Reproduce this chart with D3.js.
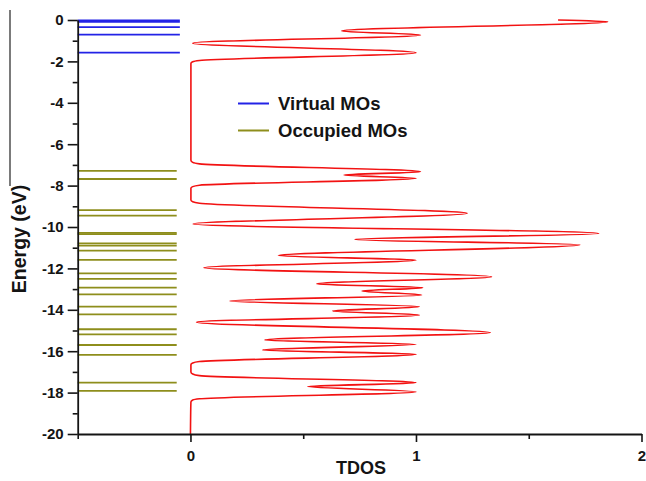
<!DOCTYPE html>
<html>
<head>
<meta charset="utf-8">
<script src="https://cdn.jsdelivr.net/npm/d3@7"></script>
<style>
  body { margin: 0; background: #fff; }
  svg { display: block; }
  text { font-family: "Liberation Sans", Arial, sans-serif; font-weight: bold; fill: #141414; }
</style>
</head>
<body>
<svg id="chart" width="646" height="481"></svg>
<script>
// Molecular orbital energy levels (eV)
const virtualMOs = [-0.02, -0.09, -0.34, -0.71, -1.58];
const occupiedMOs = [-7.29, -7.68, -9.18, -9.45, -10.28, -10.34, -10.79, -10.90, -11.14,
  -11.59, -12.24, -12.51, -12.93, -13.25, -13.85, -14.22, -14.94, -15.19, -15.70,
  -16.18, -17.52, -17.92];

// Total density of states, sampled along the energy axis
const tdosEnergy = [-20.0, -18.45, -18.36, -18.30, -17.96, -17.71, -17.52, -17.18, -17.10,
  -17.00, -16.65, -16.57, -16.50, -16.15, -15.94, -15.67, -15.46, -15.10, -14.60,
  -14.25, -14.06, -13.85, -13.57, -13.28, -13.09, -12.93, -12.75, -12.40, -11.97,
  -11.60, -11.38, -10.86, -10.60, -10.31, -9.86, -9.34, -8.85, -8.78, -8.70,
  -8.13, -8.05, -7.98, -7.65, -7.49, -7.33, -6.95, -6.88, -6.78, -2.10,
  -2.02, -1.96, -1.58, -1.12, -0.72, -0.53, -0.08, 0.0];
const tdosValue = [0.0, 0.002, 0.01, 0.04, 1.0, 0.52, 1.0, 0.04, 0.01,
  0.002, 0.002, 0.01, 0.04, 1.0, 0.32, 1.0, 0.33, 1.33, 0.027,
  1.015, 0.63, 1.015, 0.175, 1.025, 0.76, 1.03, 0.56, 1.335, 0.06,
  1.0, 0.39, 1.727, 0.73, 1.81, 0.012, 1.227, 0.04, 0.01, 0.002,
  0.002, 0.01, 0.04, 1.0, 0.68, 1.02, 0.04, 0.01, 0.002, 0.002,
  0.01, 0.04, 1.0, 0.01, 1.02, 0.67, 1.85, 1.63];

// Axis ticks
const yTicks = [0, -2, -4, -6, -8, -10, -12, -14, -16, -18, -20];
const yMinorTicks = [-1, -3, -5, -7, -9, -11, -13, -15, -17, -19];
const xTicks = [0, 1, 2];
const xMinorTicks = [-0.5, 0.5, 1.5];

const legendLabels = ["Virtual MOs", "Occupied MOs"];
const xTitle = "TDOS";
const yTitle = "Energy (eV)";

const colors = { virtual: "#2323e6", occupied: "#8e8e1c", tdos: "#f21212" };

const svg = d3.select("#chart");

const x = d3.scaleLinear().domain([-0.5, 2]).range([77.7, 641.5]);
const y = d3.scaleLinear().domain([-20, 0]).range([434, 20]);

// MO level bars on the left side of the panel
const levelGroup = svg.append("g");
levelGroup.selectAll("line.occ")
  .data(occupiedMOs)
  .join("line")
  .attr("class", "occ")
  .attr("x1", x(-0.5)).attr("x2", x(-0.061))
  .attr("y1", d => y(d)).attr("y2", d => y(d))
  .attr("stroke", colors.occupied)
  .attr("stroke-width", 1.8);
levelGroup.selectAll("line.virt")
  .data(virtualMOs)
  .join("line")
  .attr("class", "virt")
  .attr("x1", x(-0.5)).attr("x2", x(-0.047))
  .attr("y1", d => y(d)).attr("y2", d => y(d))
  .attr("stroke", colors.virtual)
  .attr("stroke-width", 1.8);

// TDOS curve: x is a function of energy, so interpolate monotonically along y
const tdos = tdosEnergy.map((e, i) => ({ e, v: tdosValue[i] }));
const tdosLine = d3.line()
  .x(d => x(d.v))
  .y(d => y(d.e))
  .curve(d3.curveMonotoneY);
svg.append("path")
  .datum(tdos)
  .attr("d", tdosLine)
  .attr("fill", "none")
  .attr("stroke", colors.tdos)
  .attr("stroke-width", 1.6)
  .attr("stroke-linejoin", "round");

// Axes
const fmt = d => String(d);
function styleAxis(g) {
  g.selectAll("path.domain").attr("stroke", "#141414").attr("stroke-width", 1.8);
  g.selectAll(".tick line").attr("stroke", "#141414").attr("stroke-width", 1.6);
  g.selectAll(".tick text").attr("font-size", 15).attr("fill", "#141414")
    .attr("font-family", "'Liberation Sans', Arial, sans-serif").attr("font-weight", "bold");
}

const yAxisG = svg.append("g").attr("transform", `translate(${x(-0.5)},0)`);
yAxisG.call(d3.axisLeft(y).tickValues(yTicks).tickFormat(fmt).tickSize(10).tickSizeOuter(0).tickPadding(4));
yAxisG.append("g").call(d3.axisLeft(y).tickValues(yMinorTicks).tickFormat("").tickSize(5).tickSizeOuter(0))
  .select("path.domain").remove();
styleAxis(yAxisG);

const xAxisG = svg.append("g").attr("transform", `translate(0,${y(-20)})`);
xAxisG.call(d3.axisBottom(x).tickValues(xTicks).tickFormat(fmt).tickSize(8).tickSizeOuter(0).tickPadding(8));
xAxisG.append("g").call(d3.axisBottom(x).tickValues(xMinorTicks).tickFormat("").tickSize(5).tickSizeOuter(0))
  .select("path.domain").remove();
styleAxis(xAxisG);

// Axis titles
svg.append("text")
  .attr("x", 361).attr("y", 474)
  .attr("text-anchor", "middle")
  .attr("font-size", 18)
  .text(xTitle);
svg.append("text")
  .attr("transform", "translate(26,239) rotate(-90)")
  .attr("text-anchor", "middle")
  .attr("font-size", 19.5)
  .text(yTitle);

// Thin rule in the left margin
svg.append("line")
  .attr("x1", 10).attr("x2", 10).attr("y1", 10).attr("y2", 186)
  .attr("stroke", "#222").attr("stroke-width", 1.2);

// Legend
const legendColors = [colors.virtual, colors.occupied];
const legend = svg.append("g");
const rows = legend.selectAll("g").data(legendLabels).join("g")
  .attr("transform", (d, i) => `translate(238,${103.5 + i * 27})`);
rows.append("line")
  .attr("x1", 0).attr("x2", 31).attr("y1", 0).attr("y2", 0)
  .attr("stroke", (d, i) => legendColors[i])
  .attr("stroke-width", 2);
rows.append("text")
  .attr("x", 40).attr("y", 6.3)
  .attr("font-size", 18.5)
  .text(d => d);
</script>
</body>
</html>
